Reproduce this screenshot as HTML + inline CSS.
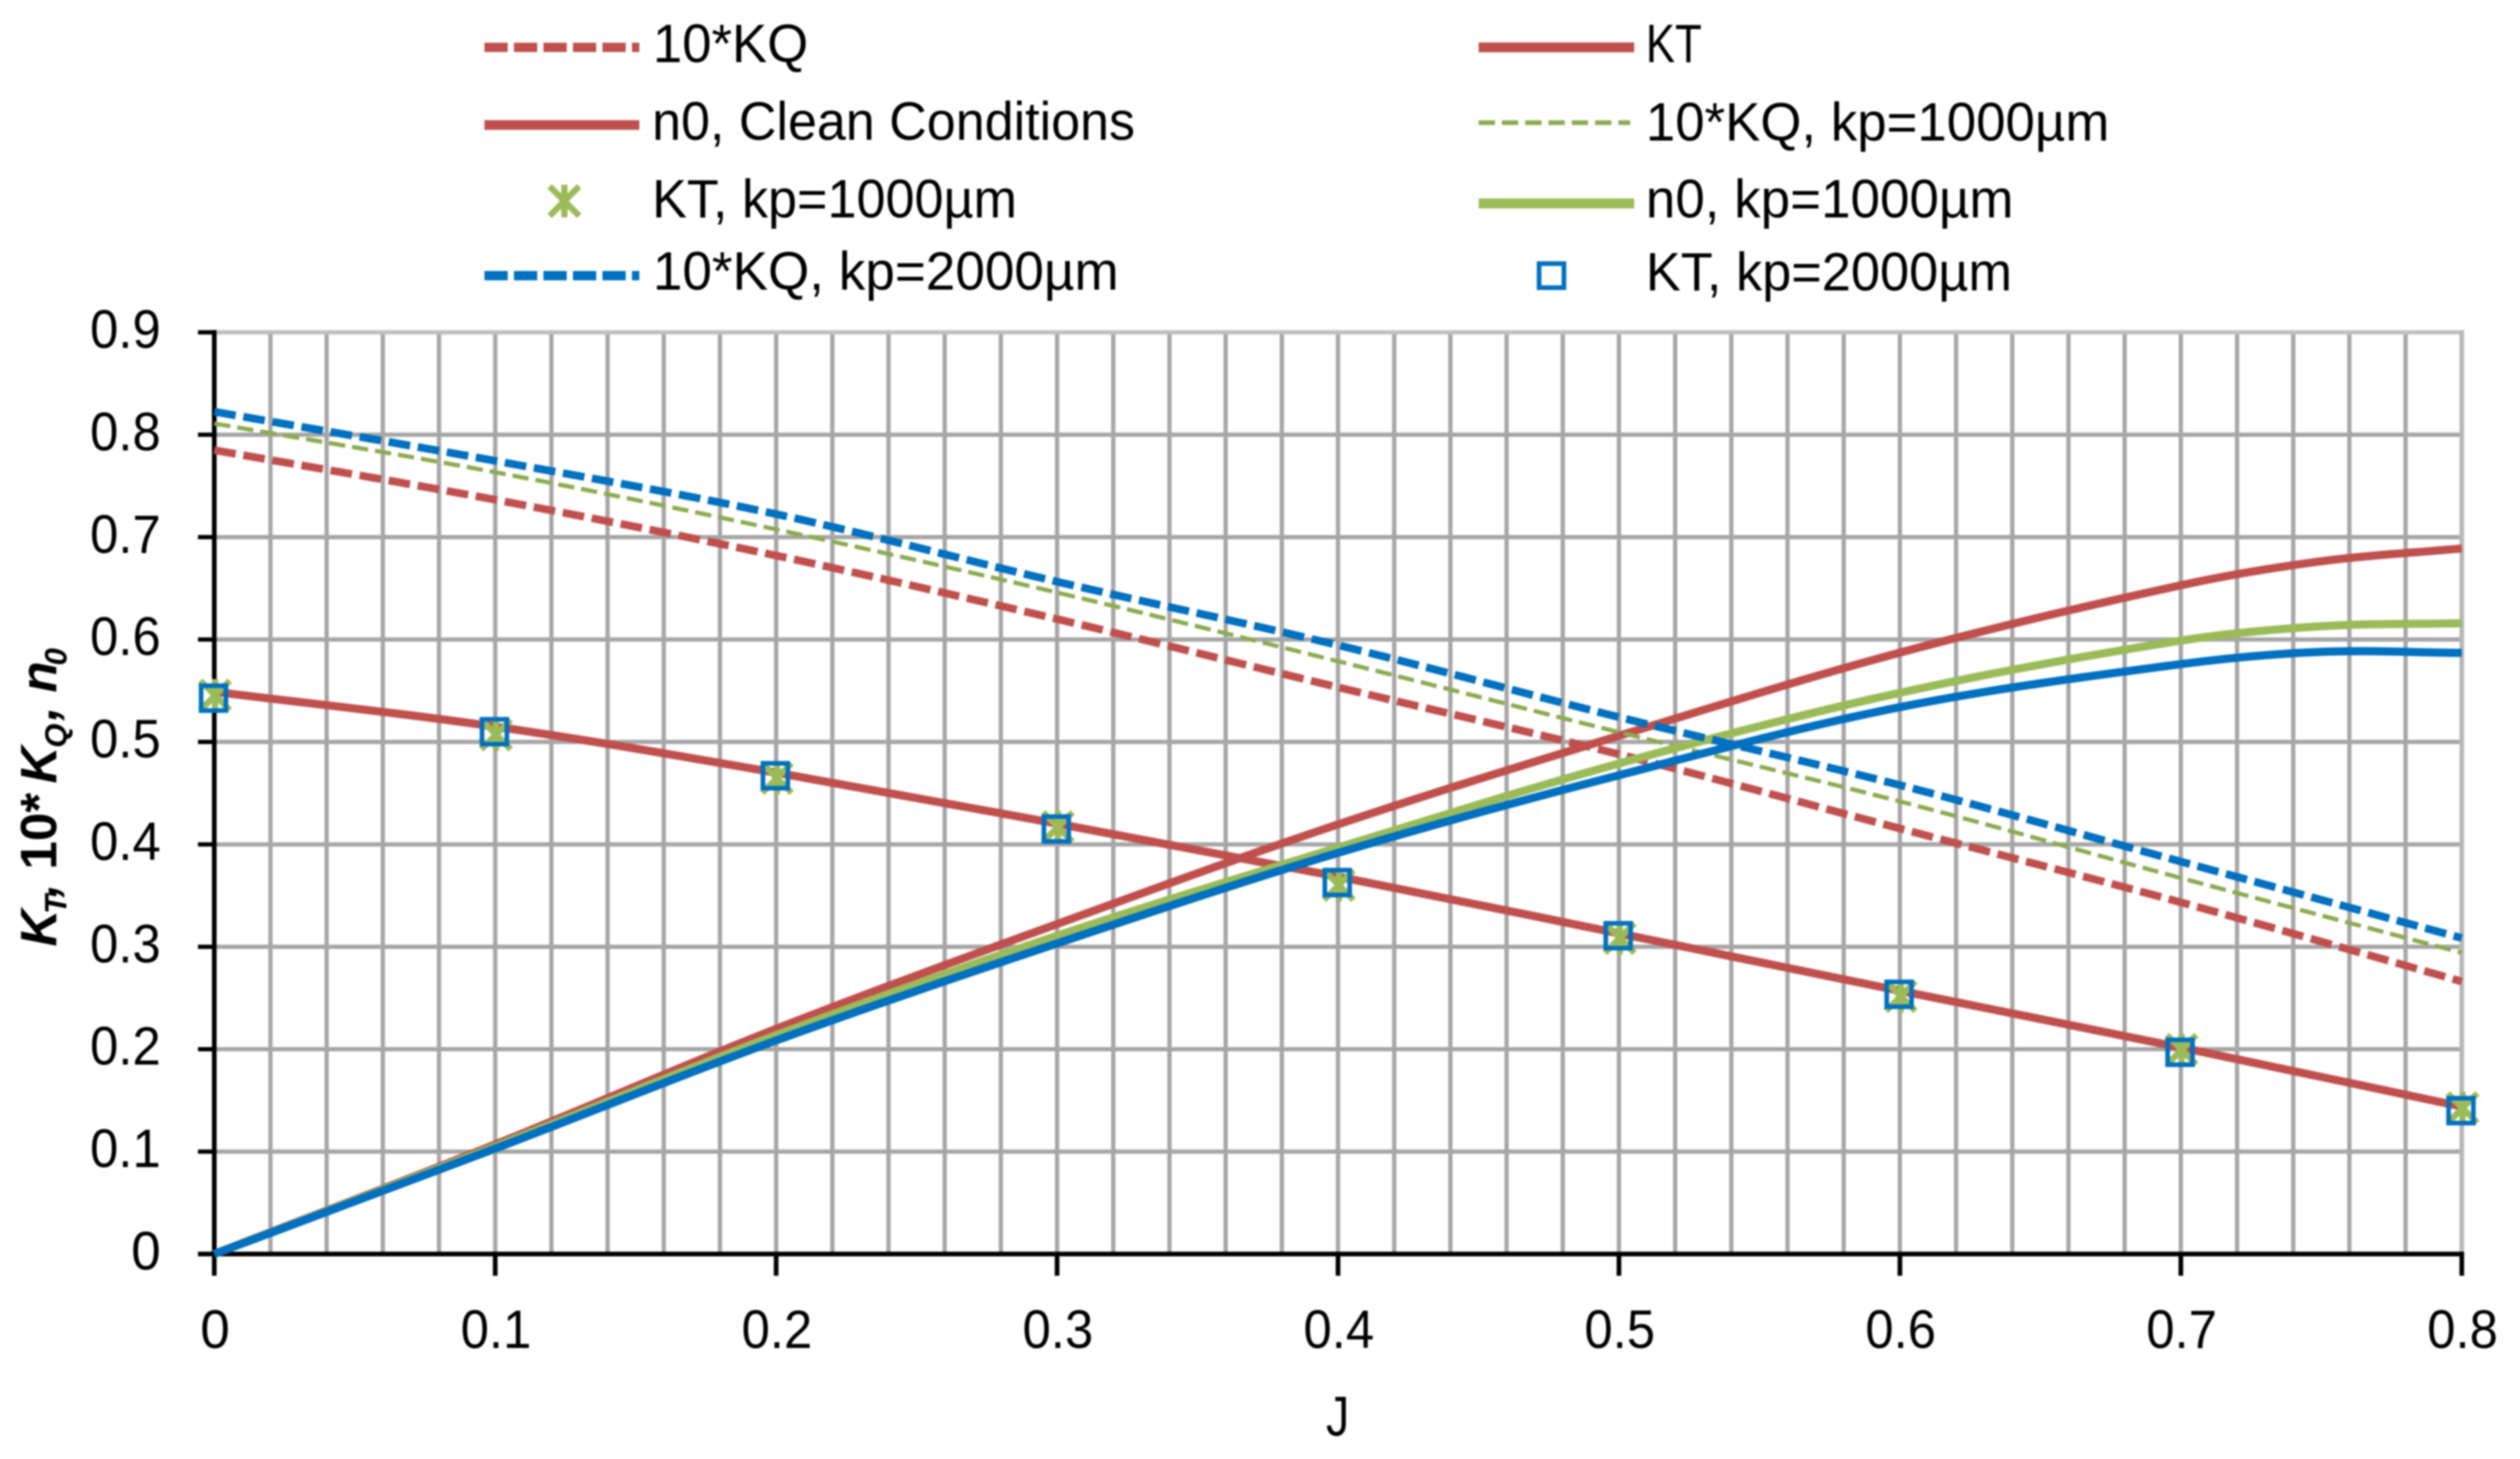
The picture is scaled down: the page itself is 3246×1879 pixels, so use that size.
<!DOCTYPE html>
<html lang="en">
<head>
<meta charset="utf-8">
<title>KT, 10*KQ and n0 versus J</title>
<style>
html,body{margin:0;padding:0;background:#fff;}
svg{display:block;filter:blur(1.1px);}
text{font-family:"Liberation Sans",sans-serif;fill:#000;}
</style>
</head>
<body>
<svg id="chart" xmlns="http://www.w3.org/2000/svg" width="3246" height="1879" viewBox="0 0 3246 1879">
  <rect x="0" y="0" width="3246" height="1879" fill="#fff"/>
  <g id="grid"></g>
  <g id="axes"></g>
  <g id="series"></g>

  <text x="1708" y="1849" font-size="72" textLength="30" lengthAdjust="spacingAndGlyphs">J</text>
  <text transform="translate(72.7,1219) rotate(-90)" font-size="66" font-weight="bold" font-style="italic"><tspan x="0" y="0">K</tspan><tspan x="42" y="13" font-size="40">T</tspan><tspan x="63" y="0">,</tspan><tspan x="99" y="0" font-style="normal">10*</tspan><tspan x="210" y="0">K</tspan><tspan x="256" y="13" font-size="40">Q</tspan><tspan x="291" y="0">,</tspan><tspan x="327" y="0">n</tspan><tspan x="362" y="13" font-size="40">0</tspan></text>

  <g>
    <g>
      <line x1="624" y1="61" x2="823.5" y2="61" stroke="#c0504d" stroke-width="12" stroke-dasharray="30 8"/>
      <text x="841" y="80" font-size="70" textLength="200" lengthAdjust="spacingAndGlyphs">10*KQ</text>
    </g>
    <g>
      <line x1="624" y1="161" x2="823.5" y2="161" stroke="#c0504d" stroke-width="12.5"/>
      <text x="840" y="180" font-size="70" textLength="622" lengthAdjust="spacingAndGlyphs">n0, Clean Conditions</text>
    </g>
    <g>
      <g stroke="#9bbb59" stroke-width="8" fill="none">
        <path d="M708 240L746 278M746 240L708 278M727 238V280"/>
      </g>
      <text x="840" y="280" font-size="70" textLength="470" lengthAdjust="spacingAndGlyphs">KT, kp=1000µm</text>
    </g>
    <g>
      <line x1="624" y1="355" x2="823.5" y2="355" stroke="#0070c0" stroke-width="12" stroke-dasharray="30 8"/>
      <text x="841" y="373" font-size="70" textLength="600" lengthAdjust="spacingAndGlyphs">10*KQ, kp=2000µm</text>
    </g>
    <g>
      <line x1="1904.6" y1="61" x2="2105" y2="61" stroke="#c0504d" stroke-width="12.7"/>
      <text x="2120" y="80" font-size="70" textLength="72" lengthAdjust="spacingAndGlyphs">KT</text>
    </g>
    <g>
      <line x1="1904.6" y1="158" x2="2100" y2="158" stroke="#8cab4f" stroke-width="6" stroke-dasharray="21 9"/>
      <text x="2120" y="181" font-size="70" textLength="597" lengthAdjust="spacingAndGlyphs">10*KQ, kp=1000µm</text>
    </g>
    <g>
      <line x1="1904.6" y1="262" x2="2105" y2="262" stroke="#9bbb59" stroke-width="12.7"/>
      <text x="2120" y="280" font-size="70" textLength="473.6" lengthAdjust="spacingAndGlyphs">n0, kp=1000µm</text>
    </g>
    <g>
      <rect x="1982.5" y="339.5" width="32" height="31" fill="none" stroke="#0070c0" stroke-width="6"/>
      <text x="2120" y="374" font-size="70" textLength="471.6" lengthAdjust="spacingAndGlyphs">KT, kp=2000µm</text>
    </g>
  </g>
</svg>

<script>
// Axis tick labels
const xTickLabels = ['0','0.1','0.2','0.3','0.4','0.5','0.6','0.7','0.8'];
const yTickLabels = ['0','0.1','0.2','0.3','0.4','0.5','0.6','0.7','0.8','0.9'];
const xTickValues = [0,0.1,0.2,0.3,0.4,0.5,0.6,0.7,0.8];
const yTickValues = [0,0.1,0.2,0.3,0.4,0.5,0.6,0.7,0.8,0.9];
const xMinorValues = [0.02,0.04,0.06,0.08,0.12,0.14,0.16,0.18,0.22,0.24,0.26,0.28,0.32,0.34,0.36,0.38,0.42,0.44,0.46,0.48,0.52,0.54,0.56,0.58,0.62,0.64,0.66,0.68,0.72,0.74,0.76,0.78];

// Categories
const jValues = [0,0.1,0.2,0.3,0.4,0.5,0.6,0.7,0.8];
const jValuesEta = [0,0.1,0.2,0.3,0.4,0.5,0.6,0.7,0.75,0.8];

// Series values
const kqClean = [0.785,0.7365,0.682,0.62,0.5534,0.488,0.4155,0.3434,0.2661];
const ktClean = [0.549,0.515,0.470,0.4203,0.3685,0.3131,0.257,0.2017,0.144];
const etaClean = [0,0.107,0.2199,0.3222,0.4195,0.506,0.5872,0.653,0.6765,0.689];
const kq1000 = [0.811,0.7634,0.7076,0.6459,0.5788,0.5095,0.442,0.3672,0.2942];
const kt1000 = [0.5455,0.5072,0.4647,0.417,0.3602,0.3085,0.2517,0.1994,0.1425];
const eta1000 = [0,0.105,0.2137,0.3108,0.3968,0.479,0.548,0.599,0.613,0.616];
const kq2000 = [0.8225,0.7745,0.7225,0.6565,0.5945,0.5242,0.4579,0.3832,0.3085];
const kt2000 = [0.5428,0.51,0.467,0.415,0.3627,0.3108,0.2536,0.197,0.14];
const eta2000 = [0,0.103,0.2085,0.3033,0.3917,0.4675,0.534,0.576,0.588,0.587];

const NS = 'http://www.w3.org/2000/svg';
const xScale = j => 276 + (j / 0.8) * 2895;
const yScale = v => 1615 - (v / 0.9) * 1187;

function make(parent, tag, attrs) {
  const el = document.createElementNS(NS, tag);
  Object.keys(attrs).forEach(k => el.setAttribute(k, attrs[k]));
  parent.appendChild(el);
  return el;
}

function curvePath(xs, vs) {
  const px = xs.map(xScale);
  const py = vs.map(yScale);
  const n = px.length;
  const m = px.map((_, i) => {
    const a = Math.max(i - 1, 0);
    const b = Math.min(i + 1, n - 1);
    return (py[b] - py[a]) / (px[b] - px[a]);
  });
  let d = 'M' + px[0].toFixed(1) + ' ' + py[0].toFixed(1);
  for (let i = 0; i < n - 1; i++) {
    const h = (px[i + 1] - px[i]) / 3;
    d += 'C' + (px[i] + h).toFixed(1) + ' ' + (py[i] + m[i] * h).toFixed(1) + ' ' +
         (px[i + 1] - h).toFixed(1) + ' ' + (py[i + 1] - m[i + 1] * h).toFixed(1) + ' ' +
         px[i + 1].toFixed(1) + ' ' + py[i + 1].toFixed(1);
  }
  return d;
}

const grid = document.getElementById('grid');
const axes = document.getElementById('axes');
const seriesLayer = document.getElementById('series');

xMinorValues.concat(xTickValues.slice(1, -1)).forEach(j => {
  const line = make(grid, 'line', {x1: xScale(j), x2: xScale(j), y1: yScale(0.9), y2: yScale(0), stroke: '#a6a6a6', 'stroke-width': 5.5});
  
  
});
yTickValues.slice(1).forEach((v, i) => {
  const isTop = i === yTickValues.length - 2;
  const line = make(grid, 'line', {x1: xScale(0), x2: xScale(0.8), y1: yScale(v), y2: yScale(v), stroke: isTop ? '#bfbfbf' : '#a6a6a6', 'stroke-width': 5.5});
  
  
});
const rightEdge = make(grid, 'line', {x1: xScale(0.8), x2: xScale(0.8), y1: yScale(0.9) - 3, y2: yScale(0), stroke: '#b8b8b8', 'stroke-width': 6});



const yAxis = make(axes, 'line', {x1: xScale(0), x2: xScale(0), y1: yScale(0.9) - 3, y2: yScale(0) + 28, stroke: '#000', 'stroke-width': 6});


const xAxis = make(axes, 'line', {x1: xScale(0) - 21, x2: xScale(0.8) + 3, y1: yScale(0), y2: yScale(0), stroke: '#000', 'stroke-width': 6});



yTickValues.forEach((v, i) => {
  const tick = make(axes, 'line', {x1: xScale(0) - 21, x2: xScale(0), y1: yScale(v), y2: yScale(v), stroke: '#000', 'stroke-width': 5.5});
  
  
  const label = make(axes, 'text', {x: 207, y: yScale(v) + 20, 'font-size': 70, 'text-anchor': 'end', textLength: yTickLabels[i].length === 1 ? 38 : 91, lengthAdjust: 'spacingAndGlyphs'});
  label.textContent = yTickLabels[i];
  
  
});
xTickValues.forEach((j, i) => {
  const tick = make(axes, 'line', {x1: xScale(j), x2: xScale(j), y1: yScale(0), y2: yScale(0) + 28, stroke: '#000', 'stroke-width': 6});
  
  
  const label = make(axes, 'text', {x: xScale(j) + 1, y: 1736, 'font-size': 70, 'text-anchor': 'middle', textLength: xTickLabels[i].length === 1 ? 38 : 91, lengthAdjust: 'spacingAndGlyphs'});
  label.textContent = xTickLabels[i];
  
  
});

function drawLine(xs, vs, color, width, dash, name) {
  const attrs = {d: curvePath(xs, vs), fill: 'none', stroke: color, 'stroke-width': width};
  if (dash) attrs['stroke-dasharray'] = dash;
  const path = make(seriesLayer, 'path', attrs);
  
  
}

function drawStars(xs, vs, name) {
  xs.forEach((j, i) => {
    const cx = xScale(j) + 1;
    const cy = yScale(vs[i]);
    const d = 'M' + (cx - 19) + ' ' + (cy - 19) + 'L' + (cx + 19) + ' ' + (cy + 19) +
              'M' + (cx + 19) + ' ' + (cy - 19) + 'L' + (cx - 19) + ' ' + (cy + 19) +
              'M' + cx + ' ' + (cy - 21) + 'V' + (cy + 21);
    const star = make(seriesLayer, 'path', {d: d, fill: 'none', stroke: '#9bbb59', 'stroke-width': 8});
    
    
  });
}

function drawSquares(xs, vs, name) {
  xs.forEach((j, i) => {
    const cx = xScale(j) - 1;
    const cy = yScale(vs[i]);
    const sq = make(seriesLayer, 'rect', {x: cx - 16, y: cy - 16, width: 32, height: 32, fill: 'none', stroke: '#0070c0', 'stroke-width': 6});
    
    
  });
}

drawLine(jValues, kqClean, '#c0504d', 10, '28 10', 'line-10kq-clean');
drawLine(jValues, ktClean, '#c0504d', 10.5, null, 'line-kt-clean');
drawLine(jValuesEta, etaClean, '#c0504d', 10.5, null, 'line-n0-clean');
drawLine(jValues, kq1000, '#8cab4f', 5.5, '21 9', 'line-10kq-1000');
drawStars(jValues, kt1000, 'marker-kt-1000');
drawLine(jValuesEta, eta1000, '#9bbb59', 10.5, null, 'line-n0-1000');
drawLine(jValues, kq2000, '#0070c0', 10, '28 10', 'line-10kq-2000');
drawSquares(jValues, kt2000, 'marker-kt-2000');
drawLine(jValuesEta, eta2000, '#0070c0', 10.5, null, 'line-n0-2000');
</script>
</body>
</html>
